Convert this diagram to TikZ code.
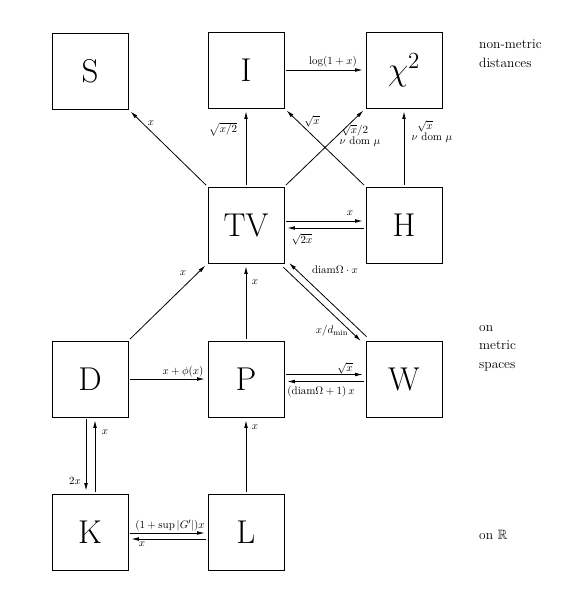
\documentclass[tikz,border=0pt]{standalone}
\usepackage{fontspec}
\usepackage{amssymb}
\usepackage{graphicx}
\usetikzlibrary{arrows.meta}
\begin{document}
\begin{tikzpicture}[x=1pt,y=-1pt,
  box/.style={draw,line width=0.9pt,minimum size=76pt,inner sep=0pt,font=\fontsize{33}{38}\selectfont},
  arr/.style={-{Latex[length=7.5pt,width=3.8pt]},line width=0.8pt,shorten >=3pt,shorten <=2pt},
  lbl/.style={font=\fontsize{10.95}{12}\selectfont,inner sep=0pt},
  side/.style={font=\fontsize{13.5}{18.5}\selectfont,align=left,anchor=base west,inner sep=0pt}]
\useasboundingbox (0,0) rectangle (583,590);
% boxes
\node[box] (S) at (90,71) {S};
\node[box] (I) at (246,70) {I};
\node[box] (C) at (404,70) {\fontsize{20.74}{24}\selectfont\scalebox{1.6}{$\chi^2$}};
\node[box] (TV) at (246,225) {TV};
\node[box] (H) at (404,225) {H};
\node[box] (D) at (90,379) {D};
\node[box] (P) at (246,379) {P};
\node[box] (W) at (404,379) {W};
\node[box] (K) at (90,532) {K};
\node[box] (L) at (246,532) {L};
% side texts
\node[side] (t1) at (479,67) {non-metric\\distances};
\node[side] (t2) at (479,368) {on\\metric\\spaces};
\node[side] (t3) at (479,539) {on $\mathbb{R}$};
% top part
\draw[arr] (I.east) -- (C.west);
\node[lbl] (l1) at (333,62) {$\log(1+x)$};
\draw[arr] (TV.north west) -- (S.south east);
\node[lbl] (l2) at (151,123) {$x$};
\draw[arr] (TV.north) -- (I.south);
\node[lbl] (l3) at (223,129) {$\sqrt{x/2}$};
\draw[arr] (TV.north east) -- (C.south west);
\node[lbl] (l4) at (355,130) {$\sqrt{x}/2$};
\node[lbl] (l5) at (360,142) {$\nu$ dom $\mu$};
\draw[arr] (H.north west) -- (I.south east);
\node[lbl] (l6) at (312,121) {$\sqrt{x}$};
\draw[arr] (H.north) -- (C.south);
\node[lbl] (l7) at (425,126) {$\sqrt{x}$};
\node[lbl] (l8) at (432,138) {$\nu$ dom $\mu$};
% TV <-> H
\draw[arr] ([yshift=4pt]TV.east) -- ([yshift=4pt]H.west);
\node[lbl] (l9) at (350,213) {$x$};
\draw[arr] ([yshift=-3pt]H.west) -- ([yshift=-3pt]TV.east);
\node[lbl] (l10) at (302,239) {$\sqrt{2x}$};
% TV <-> W
\draw[arr] ([xshift=-2.5pt,yshift=-2.5pt]TV.south east) -- ([xshift=-2.5pt,yshift=-2.5pt]W.north west);
\node[lbl] (l11) at (332,331) {$x/d_{\min}$};
\draw[arr] ([xshift=2.5pt,yshift=2.5pt]W.north west) -- ([xshift=2.5pt,yshift=2.5pt]TV.south east);
\node[lbl] (l12) at (335,270) {$\mathrm{diam}\Omega\cdot x$};
% middle row
\draw[arr] (D.north east) -- (TV.south west);
\node[lbl] (l13) at (183,273) {$x$};
\draw[arr] (P.north) -- (TV.south);
\node[lbl] (l14) at (255,282) {$x$};
\draw[arr] (D.east) -- (P.west);
\node[lbl] (l15) at (183,372) {$x+\phi(x)$};
\draw[arr] ([yshift=4.5pt]P.east) -- ([yshift=4.5pt]W.west);
\node[lbl] (l16) at (345,368) {$\sqrt{x}$};
\draw[arr] ([yshift=-2.5pt]W.west) -- ([yshift=-2.5pt]P.east);
\node[lbl] (l17) at (321,392) {$(\mathrm{diam}\Omega+1)\,x$};
% D <-> K
\draw[arr] ([xshift=-4pt]D.south) -- ([xshift=-4pt]K.north);
\node[lbl] (l18) at (75,481) {$2x$};
\draw[arr] ([xshift=5pt]K.north) -- ([xshift=5pt]D.south);
\node[lbl] (l19) at (105,432) {$x$};
% L -> P
\draw[arr] (L.north) -- (P.south);
\node[lbl] (l20) at (255,427) {$x$};
% K <-> L
\draw[arr] ([yshift=-1pt]K.east) -- ([yshift=-1pt]L.west);
\node[lbl] (l21) at (170,526) {$(1+\sup|G'|)x$};
\draw[arr] ([yshift=-7pt]L.west) -- ([yshift=-7pt]K.east);
\node[lbl] (l22) at (142,544) {$x$};
\end{tikzpicture}
\end{document}
